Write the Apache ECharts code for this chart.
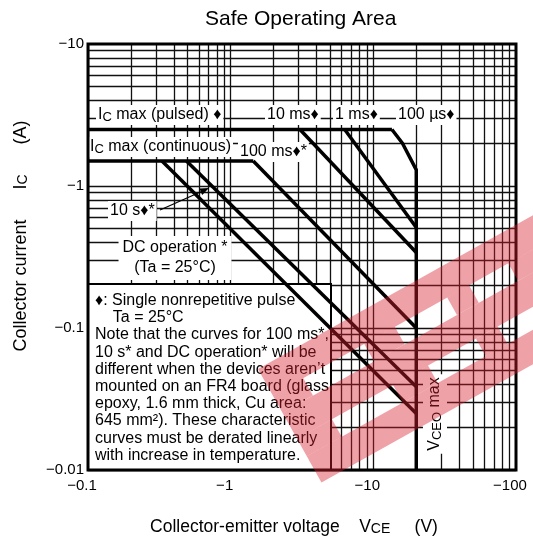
<!DOCTYPE html>
<html>
<head>
<meta charset="utf-8">
<title>Safe Operating Area</title>
<script src="https://cdn.jsdelivr.net/npm/echarts@6/dist/echarts.min.js"></script>
<style>
	html, body { margin: 0; padding: 0; background: #fff; }
	#chart { width: 533px; height: 542px; }
</style>
</head>
<body>
<div id="chart"></div>
<script>
(function() {
	"use strict";

	// ______________ DATA (VCE in V, IC in A, as printed: both negative)
	var xTickLabels = ['\u22120.1', '\u22121', '\u221210', '\u2212100'];
	var yTickLabels = ['\u22120.01', '\u22120.1', '\u22121', '\u221210'];

	var icPulsed = [[-0.1, -2.5], [-13.5, -2.5]];
	var icContinuous = [[-0.1, -1.5], [-1.44, -1.5]];
	var pulse100us = [[-13.5, -2.5], [-16, -2.0], [-20, -1.3], [-20, -0.01]];
	var pulse1ms = [[-6.3, -2.5], [-20, -0.51]];
	var pulse10ms = [[-3.06, -2.5], [-20, -0.34]];
	var pulse100ms = [[-1.44, -1.5], [-20, -0.1]];
	var pulse10s = [[-0.49, -1.5], [-20, -0.0385]];
	var dcOperation = [[-0.33, -1.5], [-20, -0.025]];

	// log grid: 1..9 in every decade
	var decadesV = [0.1, 1, 10];
	var decadesI = [0.01, 0.1, 1];
	var steps = [1, 2, 3, 4, 5, 6, 7, 8, 9];

	var FONT = '"Liberation Sans", Arial, Helvetica, sans-serif';

	function gridValues(decades) {
		var out = [];
		decades.forEach(function(d) {
			steps.forEach(function(s) {
				out.push(+(d * s).toPrecision(3));
			});
		});
		return out;
	}

	// log axes cannot take negatives, plot the magnitudes
	function mag(points) {
		return points.map(function(p) {
			return [Math.abs(p[0]), Math.abs(p[1])];
		});
	}

	function curve(name, points) {
		return {
			name: name,
			type: 'line',
			data: mag(points),
			symbol: 'none',
			silent: true,
			z: 10,
			lineStyle: { color: '#000', width: 3.5 },
			animation: false
		};
	}

	function subStyle(size) {
		return { fontSize: size, fontFamily: FONT, verticalAlign: 'bottom', lineHeight: size };
	}

	function label(text, x, y, opts) {
		opts = opts || {};
		return {
			type: 'text',
			x: x,
			y: y,
			z: 5,
			rotation: opts.rotation || 0,
			silent: true,
			style: {
				text: text,
				fontSize: opts.fontSize || 16,
				fontFamily: FONT,
				fill: '#000',
				align: opts.align || 'left',
				verticalAlign: opts.verticalAlign || 'middle',
				lineHeight: opts.lineHeight || 18,
				backgroundColor: opts.bg === false ? null : '#fff',
				padding: opts.padding || [1, 2, 1, 2],
				rich: { sub: opts.sub || subStyle(13) }
			}
		};
	}

	var noteLines = [
		'\u2666: Single nonrepetitive pulse',
		'    Ta = 25\u00b0C',
		'Note that the curves for 100 ms*,',
		'10 s* and DC operation* will be',
		'different when the devices aren\u2019t',
		'mounted on an FR4 board (glass',
		'epoxy, 1.6 mm thick, Cu area:',
		'645 mm\u00b2). These characteristic',
		'curves must be derated linearly',
		'with increase in temperature.'
	];

	// ______________ STAMP (tilted logo printed over the scan)
	var stampColor = 'rgba(215, 30, 45, 0.42)';
	var stampW = 340;
	// rows across the band: [top, bottom, holes as [from, to] along the band]
	var stampRows = [
		[0, 30, []],
		[30, 50, [[35, 105], [140, 200], [225, 270]]],
		[50, 80, []],
		[80, 100, [[40, 110], [150, 205], [230, 280]]],
		[100, 130, []]
	];

	// band corner on the page and its tilt
	function stampPoint(u, v) {
		var a = 0.51, ox = 258, oy = 369;
		return [ox + u * Math.cos(a) + v * Math.sin(a), oy - u * Math.sin(a) + v * Math.cos(a)];
	}

	function stampPieces() {
		var out = [];
		stampRows.forEach(function(row) {
			var x = 0;
			row[2].concat([[stampW, stampW]]).forEach(function(hole) {
				if (hole[0] > x) {
					out.push({
						type: 'polygon', zlevel: 1, z: 40, silent: true,
						shape: { points: [
							stampPoint(x, row[0]), stampPoint(hole[0], row[0]),
							stampPoint(hole[0], row[1]), stampPoint(x, row[1])
						] },
						style: { fill: stampColor }
					});
				}
				x = hole[1];
			});
		});
		return out;
	}

	var chart = echarts.init(document.getElementById('chart'));

	chart.setOption({
		animation: false,
		backgroundColor: '#fff',
		title: {
			text: 'Safe Operating Area',
			left: 200,
			top: 4,
			textStyle: { fontSize: 21, fontWeight: 'normal', fontFamily: FONT, color: '#000' }
		},
		grid: { left: 88, right: 17, top: 44, bottom: 72 },
		xAxis: {
			type: 'log',
			logBase: 10,
			min: 0.1,
			max: 100,
			axisLine: { show: false },
			axisTick: { show: false },
			splitLine: { show: false },
			axisLabel: {
				margin: 8,
				fontSize: 15,
				fontFamily: FONT,
				color: '#000',
				padding: [0, 12, 0, 0],
				formatter: function(v, i) { return xTickLabels[i]; }
			}
		},
		yAxis: {
			type: 'log',
			logBase: 10,
			min: 0.01,
			max: 10,
			axisLine: { show: false },
			axisTick: { show: false },
			splitLine: { show: false },
			axisLabel: {
				margin: 4,
				fontSize: 15,
				fontFamily: FONT,
				color: '#000',
				formatter: function(v, i) { return yTickLabels[i]; }
			}
		},
		series: [{
			name: 'grid',
			type: 'line',
			data: [],
			z: 1,
			silent: true,
			markLine: {
				silent: true,
				z: 1,
				animation: false,
				symbol: ['none', 'none'],
				label: { show: false },
				emphasis: { disabled: true },
				lineStyle: { color: '#111', width: 1.3, type: 'solid' },
				data: gridValues(decadesV).map(function(v) { return { xAxis: v }; })
					.concat(gridValues(decadesI).map(function(v) { return { yAxis: v }; }))
			}
		},
			curve('IC max (pulsed)', icPulsed),
			curve('IC max (continuous)', icContinuous),
			curve('100 \u00b5s', pulse100us),
			curve('1 ms', pulse1ms),
			curve('10 ms', pulse10ms),
			curve('100 ms', pulse100ms),
			curve('10 s', pulse10s),
			curve('DC operation', dcOperation)
		],
		graphic: [
			// note box
			{
				type: 'rect', z: 3, silent: true,
				shape: { x: 88, y: 284, width: 243, height: 186 },
				style: { fill: '#fff', stroke: '#000', lineWidth: 2 }
			},
			label(noteLines.join('\n'), 93, 291, { verticalAlign: 'top', lineHeight: 17.2, bg: false, padding: 0 }),

			label('I{sub|C} max (pulsed) \u2666', 96, 115),
			label('10 ms\u2666', 265, 115),
			label('1 ms\u2666', 333, 115),
			label('100 \u00b5s\u2666', 396, 115),
			label('I{sub|C} max (continuous)', 88, 147),
			label('100 ms\u2666*', 238, 152),
			label('10 s\u2666*', 108, 211),
			label('DC operation *\n(Ta = 25\u00b0C)', 175, 258, { align: 'center', lineHeight: 20, padding: [2, 4, 2, 4] }),
			label('V{sub|CEO} max', 435, 414, { align: 'center', rotation: Math.PI / 2, padding: [3, 3, 3, 3] }),

			// arrow from "10 s" to its curve
			{
				type: 'line', z: 5, silent: true,
				shape: { x1: 160, y1: 210, x2: 201, y2: 191.7 },
				style: { stroke: '#000', lineWidth: 1.2 }
			},
			{
				type: 'polygon', z: 5, silent: true,
				shape: { points: [[209, 188], [202.2, 194.9], [199.4, 188.5]] },
				style: { fill: '#000' }
			},

			// axis names
			label('Collector-emitter voltage    V{sub|CE}     (V)', 294, 527, {
				align: 'center', fontSize: 17.5, bg: false, padding: 0, sub: subStyle(14)
			}),
			label('Collector current      I{sub|C}      (A)', 21, 236, {
				align: 'center', fontSize: 18, bg: false, padding: 0, rotation: Math.PI / 2, sub: subStyle(14)
			}),

			// plot frame
			{
				type: 'rect', z: 30, silent: true,
				shape: { x: 88, y: 44, width: 428, height: 426 },
				style: { fill: 'none', stroke: '#000', lineWidth: 3 }
			}
		].concat(stampPieces())
	});
})();
</script>
</body>
</html>
